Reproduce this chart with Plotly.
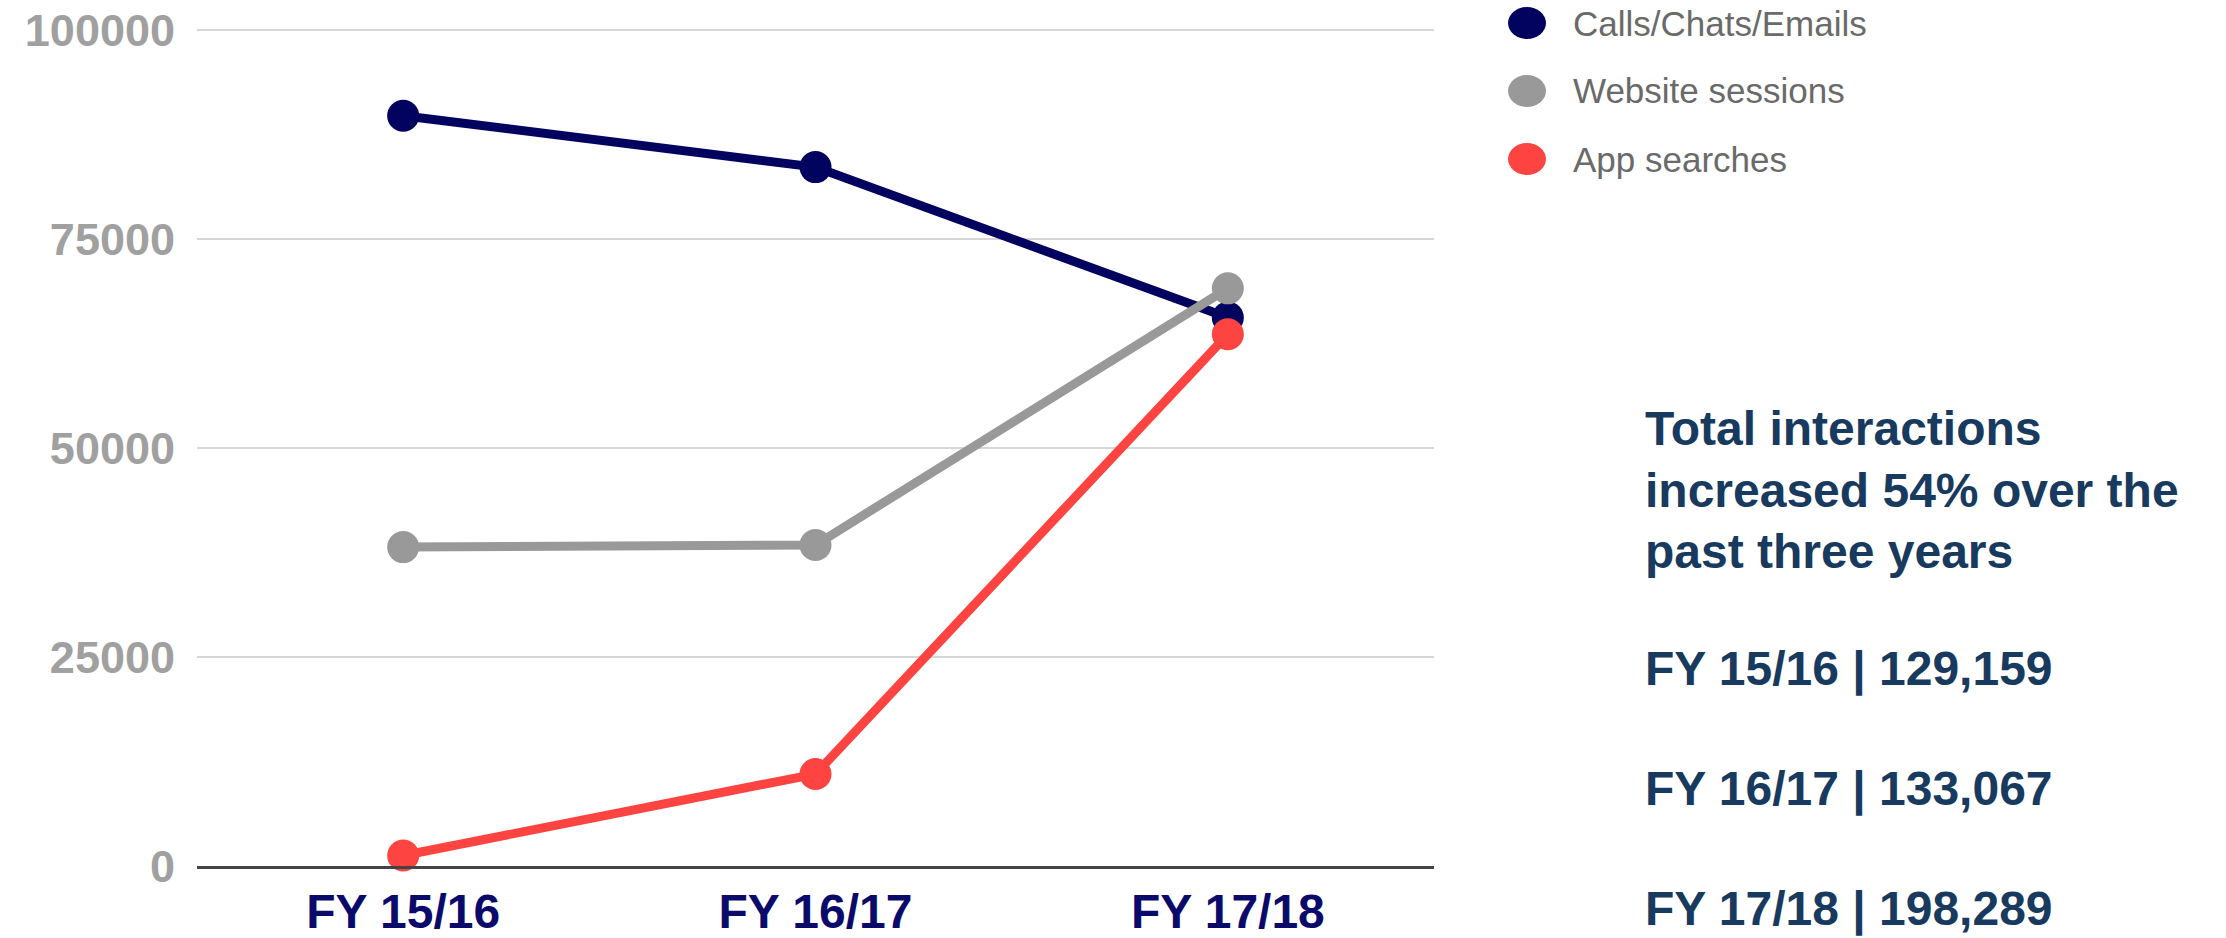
import plotly.graph_objects as go

# ---- data ----
years = ["FY 15/16", "FY 16/17", "FY 17/18"]
calls = [89750, 83600, 65600]
website = [38150, 38400, 69100]
app = [1260, 11000, 63600]

series_names = ["Calls/Chats/Emails", "Website sessions", "App searches"]
series_values = [calls, website, app]
series_colors = ["#02025f", "#999999", "#fe4440"]

y_ticks = [0, 25000, 50000, 75000, 100000]

summary_title = ["Total interactions", "increased 54% over the", "past three years"]
summary_totals = ["129,159", "133,067", "198,289"]

FONT = "Liberation Sans, Arial, sans-serif"

fig = go.Figure()
for name, vals, col in zip(series_names, series_values, series_colors):
    fig.add_trace(go.Scatter(
        x=years, y=vals, name=name, mode="lines+markers",
        line=dict(color=col, width=9),
        marker=dict(color=col, size=32),
        cliponaxis=False, showlegend=False,
    ))

# geometry in pixels
W, H = 2226, 938
PLOT_L, PLOT_R = 197, 1434
PLOT_B = 866
Y_TOP_VAL = 100480
PLOT_T = 26
pw = PLOT_R - PLOT_L
ph = PLOT_B - PLOT_T

def px_x(x):
    return (x - PLOT_L) / pw

def px_y(y):
    return (PLOT_B - y) / ph

shapes = []
annotations = []
# manual legend (large dots like the reference)
for i, (name, col) in enumerate(zip(series_names, series_colors)):
    cy = 23 + 68 * i
    shapes.append(dict(
        type="circle", xref="paper", yref="paper",
        xsizemode="pixel", ysizemode="pixel",
        xanchor=px_x(1527), yanchor=px_y(cy),
        x0=-19, x1=19, y0=-16, y1=16,
        fillcolor=col, line=dict(width=0),
    ))
    annotations.append(dict(
        x=px_x(1571), y=px_y(cy), xref="paper", yref="paper",
        text=name, showarrow=False, xanchor="left", yanchor="middle",
        font=dict(family=FONT, size=35, color="#6a6a6a"),
    ))

# summary text block
txt_color = "#173a5e"
for i, line in enumerate(summary_title):
    annotations.append(dict(
        x=px_x(1643), y=px_y(429 + 61 * i), xref="paper", yref="paper",
        text="<b>%s</b>" % line, showarrow=False, xanchor="left", yanchor="middle",
        font=dict(family=FONT, size=48, color=txt_color),
    ))
for i, (yr, tot) in enumerate(zip(years, summary_totals)):
    annotations.append(dict(
        x=px_x(1643), y=px_y(669 + 120 * i), xref="paper", yref="paper",
        text="<b>%s | %s</b>" % (yr, tot), showarrow=False,
        xanchor="left", yanchor="middle",
        font=dict(family=FONT, size=48, color=txt_color),
    ))

fig.update_layout(
    width=W, height=H,
    margin=dict(l=PLOT_L, r=W - PLOT_R, t=PLOT_T, b=H - PLOT_B, pad=0),
    paper_bgcolor="white", plot_bgcolor="white",
    showlegend=False,
    shapes=shapes, annotations=annotations,
    xaxis=dict(
        type="category", range=[-0.5, 2.5], automargin=False,
        showgrid=False, showline=True, linecolor="#444444", linewidth=3,
        ticks="", ticklabelstandoff=1, ticklabeloverflow="allow",
        tickfont=dict(family=FONT, size=48, color="#0a0a6b", weight="bold"),
        zeroline=False,
    ),
    yaxis=dict(
        range=[0, Y_TOP_VAL], tickvals=y_ticks, ticktext=[str(v) for v in y_ticks],
        automargin=False,
        showgrid=True, gridcolor="#d6d6d6", gridwidth=2,
        zeroline=False, showline=False, ticks="",
        ticklabelstandoff=21, ticklabeloverflow="allow",
        tickfont=dict(family=FONT, size=45, color="#a0a0a0", weight="bold"),
    ),
)

fig.write_html("out.html", config={"displayModeBar": False},
               post_script="document.body.style.margin='0';")
